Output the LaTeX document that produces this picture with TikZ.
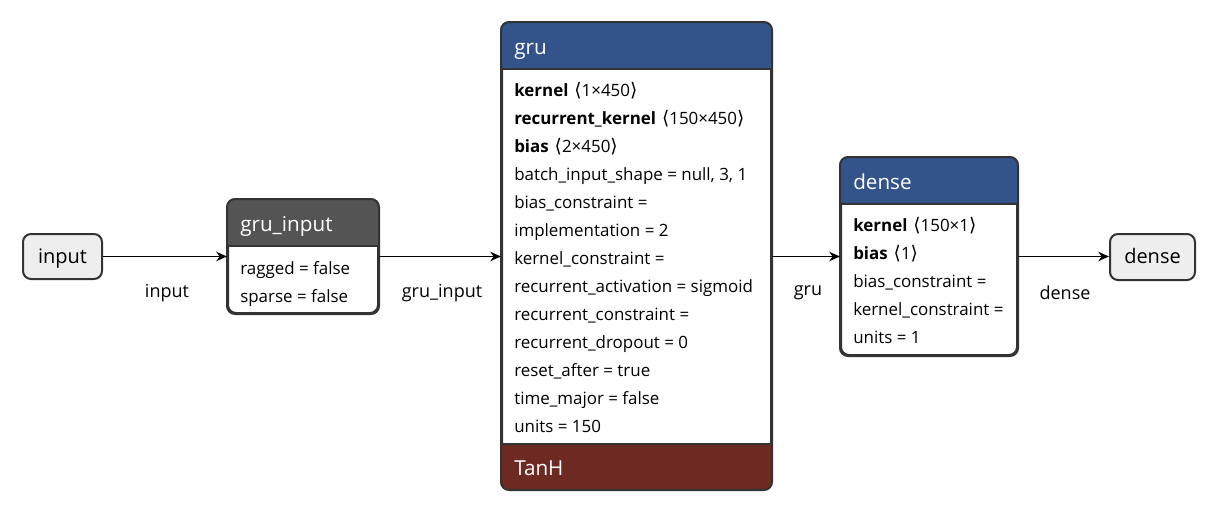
\documentclass[tikz,border=0pt]{standalone}
\usepackage{fontspec}
\setmainfont{Open Sans}
\newfontfamily\symfont{DejaVu Sans}
\usetikzlibrary{calc}
\usetikzlibrary{arrows.meta}
\usetikzlibrary{fit}
\definecolor{layerblue}{HTML}{33548A}
\definecolor{layergray}{HTML}{545454}
\definecolor{actred}{HTML}{6D2A23}
\definecolor{edgegray}{HTML}{333333}
\definecolor{termfill}{HTML}{EEEEEE}
\tikzset{layer/.style={rectangle, rounded corners=6pt, draw=edgegray, line width=1.5pt, fill=white, inner sep=0pt}}
\tikzset{term/.style={layer, fill=termfill, text height=1.25em, text depth=0.25em, font=\fontsize{15}{17}\selectfont}}
\tikzset{attr/.style={anchor=mid west, inner sep=0pt, yshift=-2.25pt, font=\fontsize{12.7}{14}\selectfont}}
\tikzset{head/.style={anchor=mid west, inner sep=0pt, yshift=-2.25pt, text=white, font=\fontsize{15.5}{17}\selectfont}}
\tikzset{flow/.style={draw=black, line width=1.3pt, -{Stealth[length=8pt,width=7pt,inset=2.5pt]}}}
\tikzset{flowlab/.style={inner sep=0pt, yshift=-2.25pt, font=\fontsize{13.5}{15}\selectfont}}
\newcommand{\shp}[1]{\hspace{0.35em}{\symfont\fontsize{14}{14}\selectfont\char"27E8}#1{\symfont\fontsize{14}{14}\selectfont\char"27E9}}

\begin{document}
\begin{tikzpicture}[x=0.75pt,y=-0.75pt]
    \useasboundingbox (0,0) rectangle (1220,514);
    % terminals
    \node[term, minimum width=59.25pt, minimum height=33.75pt] (input) at (62.5,256.5) {input};
    \node[term, minimum width=63.75pt, minimum height=34.5pt] (output) at (1152.5,257) {dense};
    % layers
    \foreach \lab/\xa/\ya/\xb/\yb/\yh/\col in {
      gruin/228/200/378/313/246/layergray,
      gru/502/23/771/489/69/layerblue,
      dense/841/158/1017/355/204/layerblue%
    } {
      \node[layer, fit={(\xa,\ya) (\xb,\yb)}] (\lab) {};
      \begin{scope}
        \clip[rounded corners=6pt] (\lab.north west) rectangle (\lab.south east);
        \fill[\col] (\lab.north west) rectangle (\xb,\yh);
      \end{scope}
      \draw[edgegray, line width=1.5pt] (\xa,\yh) -- (\xb,\yh);
    }
    \begin{scope}
      \clip[rounded corners=6pt] (gru.north west) rectangle (gru.south east);
      \fill[actred] (502,444) rectangle (gru.south east);
    \end{scope}
    \draw[edgegray, line width=1.5pt] (502,444) -- (771,444);
    \foreach \lab in {gruin, gru, dense} {
      \draw[edgegray, line width=1.5pt, rounded corners=6pt] (\lab.north west) rectangle (\lab.south east);
    }
    % headers
    \foreach \x/\y/\lab/\tx in {
      240/225/gruinhead/gru\_input,
      514/48/gruhead/gru,
      514/469/gruact/TanH,
      853/183/densehead/dense%
    } {
      \node[head] (\lab) at (\x, \y) {\tx};
    }
    % attributes
    \foreach \x/\y/\lab/\tx in {
      240/268/a1/ragged = false,
      240/296/a2/sparse = false,
      514/90/b1/\textbf{kernel}\shp{1×450},
      514/118/b2/\textbf{recurrent\_kernel}\shp{150×450},
      514/146/b3/\textbf{bias}\shp{2×450},
      514/174/b4/{batch\_input\_shape = null, 3, 1},
      514/202/b5/bias\_constraint =,
      514/230/b6/implementation = 2,
      514/258/b7/kernel\_constraint =,
      514/286/b8/recurrent\_activation = sigmoid,
      514/314/b9/recurrent\_constraint =,
      514/342/b10/recurrent\_dropout = 0,
      514/370/b11/reset\_after = true,
      514/398/b12/time\_major = false,
      514/426/b13/units = 150,
      853/225/c1/\textbf{kernel}\shp{150×1},
      853/253/c2/\textbf{bias}\shp{1},
      853/281/c3/bias\_constraint =,
      853/309/c4/kernel\_constraint =,
      853/337/c5/units = 1%
    } {
      \node[attr] (\lab) at (\x, \y) {\tx};
    }
    % edges
    \draw[flow] (input.east) -- (input.east -| gruin.west);
    \draw[flow] (gruin.east) -- (gruin.east -| gru.west);
    \draw[flow] (gruin.east -| gru.east) -- (gruin.east -| dense.west);
    \draw[flow] (dense.east) -- (dense.east -| output.west);
    \foreach \x/\y/\lab/\tx in {
      167/290/l1/input,
      442/290/l2/gru\_input,
      808/290/l3/gru,
      1065/290/l4/dense%
    } {
      \node[flowlab] (\lab) at (\x, \y) {\tx};
    }
\end{tikzpicture}
\end{document}
